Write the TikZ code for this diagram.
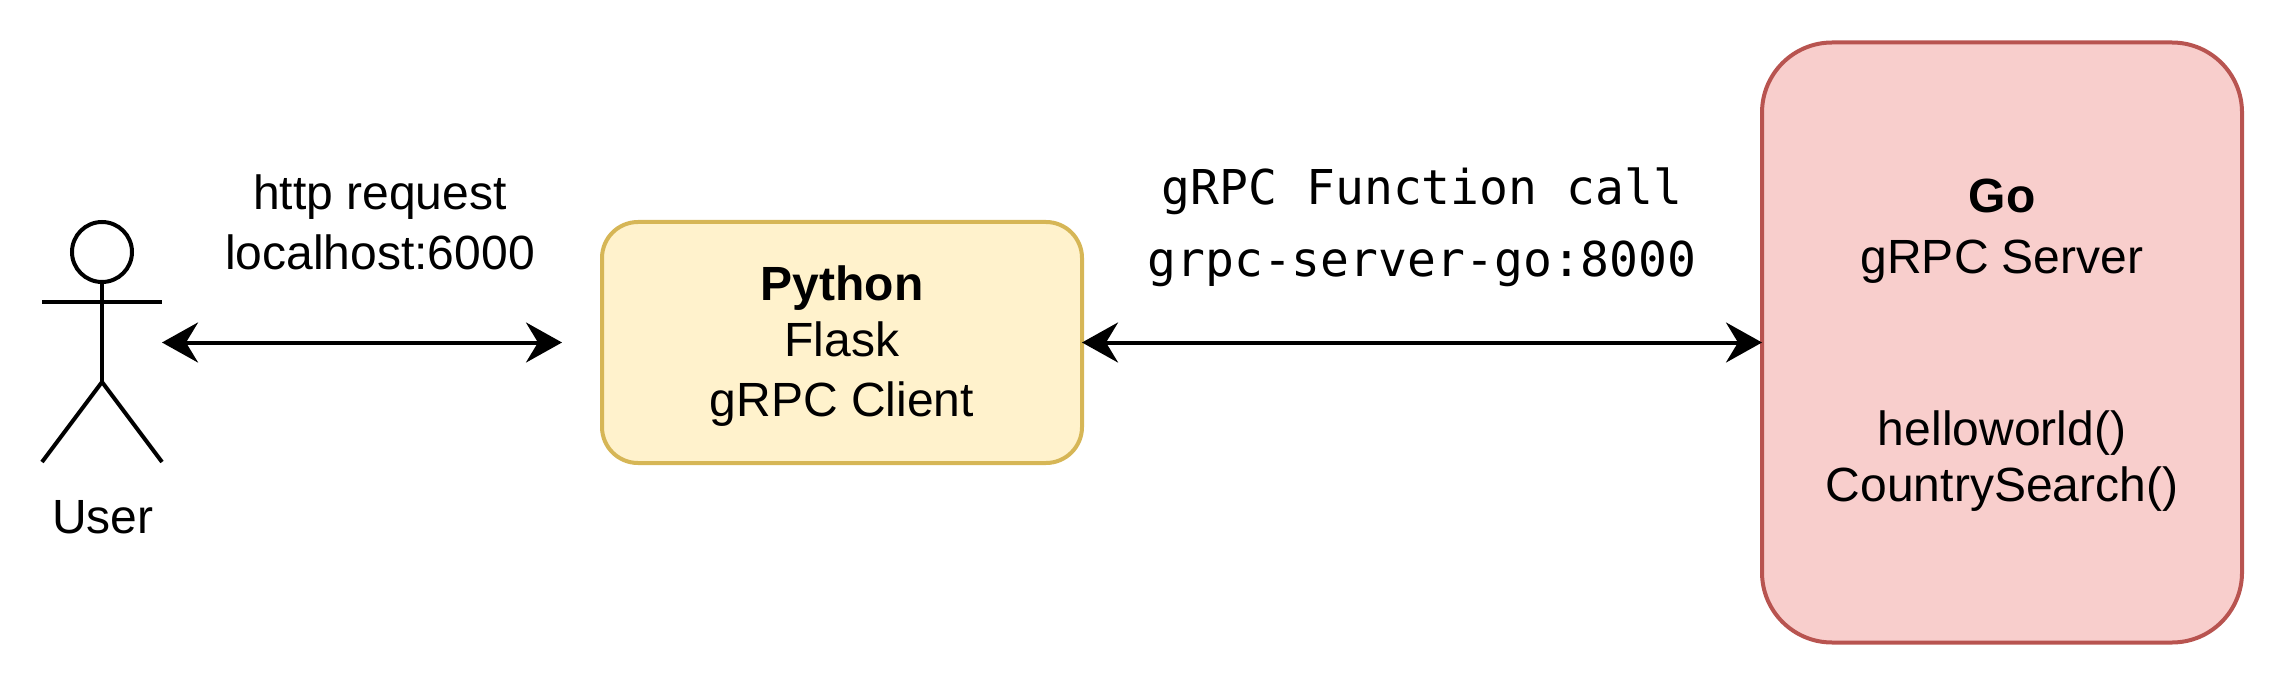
\documentclass[tikz,border=0pt]{standalone}
\usepackage{fontspec}
\setmainfont{Liberation Sans}
\newfontfamily\codefont{DejaVu Sans Mono}
\usetikzlibrary{arrows.meta}
\definecolor{FlaskFill}{HTML}{FFF2CC}
\definecolor{FlaskLine}{HTML}{D6B656}
\definecolor{GoFill}{HTML}{F8CECC}
\definecolor{GoLine}{HTML}{B85450}

\begin{document}
\begin{tikzpicture}[
        x=0.5pt,y=-0.5pt,
        every node/.style={font=\fontsize{24}{30}\selectfont},
        box/.style={draw,line width=2pt,align=center,inner sep=0pt,outer sep=0pt},
        arrow/.style={{Stealth[length=18pt,width=20pt,inset=6pt]}-{Stealth[length=18pt,width=20pt,inset=6pt]},line width=2pt},
        stick/.style={line width=2pt},
        codelabel/.style={align=center,font=\fontsize{24}{36}\selectfont\codefont}
      ]
        \useasboundingbox (0,0) rectangle (2284,684);
        % actor
        \node[circle,draw,line width=2pt,minimum size=30pt,inner sep=0pt] (head) at (102,252) {};
        \coordinate (neck) at (102,382);
        \coordinate (armleft) at (42,302);
        \coordinate (armright) at (162,302);
        \coordinate (footleft) at (42,462);
        \coordinate (footright) at (162,462);
        \draw[stick] (head.south) -- (neck);
        \draw[stick] (armleft) -- (armright);
        \draw[stick] (footleft) -- (neck) -- (footright);
        \node (user) at (103,517) {User};
        % boxes
        \node[box,draw=FlaskLine,fill=FlaskFill,rounded corners=18pt,
          minimum width=240pt,minimum height=120.5pt] (flask) at (842,342.5)
          {\rule{0pt}{21pt}\textbf{Python}\\[-2.2pt]Flask\\gRPC Client};
        \node[box,draw=GoLine,fill=GoFill,rounded corners=35pt,
          minimum width=240pt,minimum height=300pt] (go) at (2002,342.5)
          {\rule{0pt}{19.1pt}\textbf{Go}\\[0.7pt]gRPC Server\\[56pt]helloworld()\\[-2.2pt]CountrySearch()};
        % connectors
        \coordinate (userside) at (162,342.5);
        \coordinate (flaskside) at (562,342.5);
        \draw[arrow] (userside) -- (flaskside);
        \draw[arrow] (flask.east) -- (go.west);
        \node[align=center] (httplabel) at (380,222) {http request\\localhost:6000};
        \node[codelabel] (rpclabel) at (1422,227) {gRPC Function call\\grpc-server-go:8000};
      \end{tikzpicture}
\end{document}
